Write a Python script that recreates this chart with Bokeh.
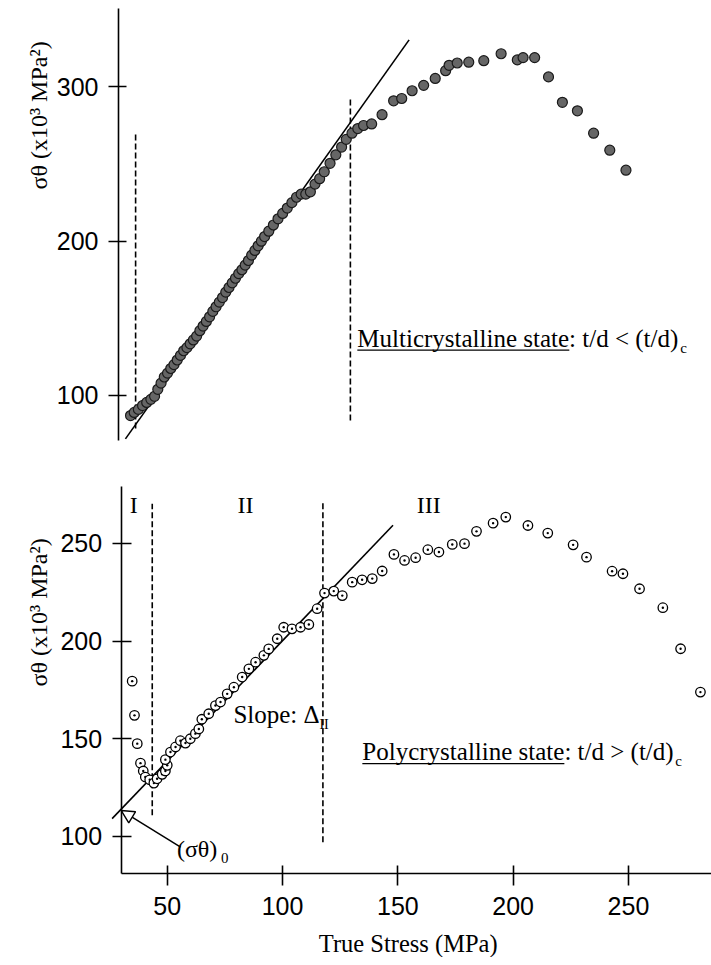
from bokeh.plotting import figure
from bokeh.models import Range1d, Label, Arrow, NormalHead, FixedTicker, LinearAxis
from bokeh.layouts import column
from bokeh.embed import file_html
from bokeh.resources import INLINE

# ---------------- data ----------------
# Upper panel: multicrystalline state (filled markers)
multi_stress = [35.2, 36.8, 38.6, 40.4, 42.2, 44.0, 45.6, 47.0, 48.4, 49.8,
                51.2, 52.6, 54.0, 55.4, 56.8, 58.2, 59.6, 61.0, 62.4, 63.8,
                65.2, 66.6, 68.0, 69.4, 70.8, 72.2, 73.6, 75.0, 76.4, 77.8,
                79.2, 80.6, 82.0, 83.4, 84.8, 86.2, 87.6, 89.0, 90.4, 91.8,
                93.2, 95.0, 97.0, 99.0, 101.0, 103.0, 105.0, 107.0, 109.0, 111.0,
                113.0, 115.0, 117.0, 119.0, 121.5, 124.0, 126.5, 128.5, 131.0, 133.5,
                136.0, 139.5, 144.0, 149.0, 152.5, 157.0, 162.0, 167.0, 171.5, 173.0,
                176.5, 181.5, 188.0, 195.5, 202.5, 205.0, 210.0, 216.0, 222.0, 228.5,
                235.5, 242.5, 249.5]
multi_stheta = [87, 89, 91, 93.5, 95.5, 97.5, 99.5, 104, 108, 112,
                114.5, 117.5, 120, 123, 126, 129, 131, 133.5, 136, 138.5,
                142, 145, 148, 151, 154.5, 157.5, 160.5, 163.5, 167, 170,
                173, 176, 179, 181.5, 184.5, 187.5, 191, 194, 197, 200,
                203, 206.5, 210.5, 214.5, 218, 221.5, 225, 228.5, 230.5, 230.5,
                232, 237, 240.5, 245, 250.5, 256, 261, 266, 270, 273,
                275, 276, 282, 291, 292.5, 297.5, 301, 305.5, 310.5, 314,
                315.5, 316, 317, 321.5, 317.5, 319, 319, 306.5, 290, 284.5,
                270, 259, 246]

# Lower panel: polycrystalline state (open markers)
poly_stress = [34.8, 35.8, 37.0, 38.4, 39.6, 40.5, 42.4, 44.2, 45.6, 47.8,
               49.2, 50.0, 49.2, 51.4, 53.6, 55.7, 57.9, 60.0, 62.2, 63.7,
               65.0, 68.0, 70.9, 73.1, 76.0, 78.9, 82.5, 85.4, 88.3, 91.9,
               94.0, 97.7, 100.5, 104.1, 107.8, 111.4, 115.0, 118.2, 122.2, 125.9,
               130.2, 134.5, 138.9, 143.2, 148.3, 152.9, 157.7, 163.0, 167.8, 173.6,
               178.9, 184.1, 191.3, 196.8, 206.4, 215.0, 226.0, 231.8, 242.9, 247.6,
               254.8, 264.9, 272.6, 281.2]
poly_stheta = [179.5, 162.0, 147.5, 137.5, 133.5, 130.4, 129.0, 127.3, 129.5, 131.8,
               133.5, 136.4, 139.3, 143.2, 145.8, 149.0, 147.8, 150.0, 152.6, 155.0,
               160.0, 162.8, 167.0, 168.8, 173.0, 176.4, 181.6, 185.8, 189.2, 192.7,
               196.0, 201.2, 207.1, 206.3, 207.1, 208.5, 216.6, 224.6, 225.6, 223.3,
               230.2, 231.4, 232.0, 235.9, 244.4, 241.3, 242.7, 246.8, 245.6, 249.5,
               249.9, 256.2, 260.4, 263.5, 259.2, 255.3, 249.3, 243.0, 235.8, 234.5,
               226.8, 217.1, 196.1, 173.9]

# fitted straight lines (stage II)
multi_fit_x = [33.0, 155.7]
multi_fit_y = [71.9, 330.5]
poly_fit_x = [26.1, 147.9]
poly_fit_y = [109.1, 259.3]

# dashed stage boundaries
multi_bound_x = [37.4, 130.3]
multi_bound_lo = [78.6, 83.8]
multi_bound_hi = [269.8, 293.3]
poly_bound_x = [43.5, 117.5]
poly_bound_lo = [110.8, 97.0]
poly_bound_hi = [270.3, 271.2]

# axes: origin and extent
x_axis_start = 30.0
top_y_extent = (70.8, 350.6)
bot_y_extent = (81.05, 279.3)
x_ticks = [50, 100, 150, 200, 250]
top_y_ticks = [100, 200, 300]
bot_y_ticks = [100, 150, 200, 250]

# stage labels
stage_names = ["I", "II", "III"]
stage_x = [35.5, 83.9, 163.4]
stage_y = 265.2

assert len(multi_stress) == len(multi_stheta)
assert len(poly_stress) == len(poly_stheta)

SERIF = "Liberation Serif"
SANS = "Liberation Sans"
YLABEL = "\u03c3\u03b8 (x10\u00b3 MPa\u00b2)"
BASE_FIX = 0.36  # em shift that puts Bokeh's label on the intended baseline


def style_axis(ax, ticks, tin, tout, standoff):
    ax.ticker = FixedTicker(ticks=ticks)
    ax.major_tick_in = tin
    ax.major_tick_out = tout
    ax.minor_tick_in = 0
    ax.minor_tick_out = 0
    ax.axis_line_width = 1.6
    ax.axis_line_color = "black"
    ax.major_tick_line_width = 1.6
    ax.major_tick_line_color = "black"
    ax.major_label_text_font = SANS
    ax.major_label_text_font_size = "25px"
    ax.major_label_text_color = "black"
    ax.major_label_standoff = standoff


def lbl(p, x, y, text, size, align="left", rotated=False, xo=0.0, yo=0.0):
    fix = BASE_FIX * size
    if rotated:
        xo -= fix
    else:
        yo += fix
    p.add_layout(Label(x=x, y=y, text=text, text_font=SERIF, text_font_size=f"{size}px",
                       text_color="black", text_align=align, text_baseline="alphabetic",
                       angle=1.5708 if rotated else 0.0, x_offset=xo, y_offset=yo))


def base_fig(h, xr, yr):
    p = figure(width=711, height=h, x_range=Range1d(*xr), y_range=Range1d(*yr),
               output_backend="svg", toolbar_location=None,
               x_axis_location=None, y_axis_location=None,
               min_border_left=0, min_border_right=0, min_border_top=0, min_border_bottom=0)
    p.grid.visible = False
    p.outline_line_color = None
    return p


# ---------------- upper panel ----------------
p1 = base_fig(450, (-21.04, 286.5), (64.35, 356.0))
yax1 = LinearAxis(fixed_location=x_axis_start, bounds=top_y_extent)
style_axis(yax1, top_y_ticks, 8, 10, 10)
p1.add_layout(yax1, "left")

for bx, lo, hi in zip(multi_bound_x, multi_bound_lo, multi_bound_hi):
    p1.line([bx, bx], [lo, hi], line_color="black", line_width=1.6, line_dash="6 3")
p1.line(multi_fit_x, multi_fit_y, line_color="black", line_width=1.6)
p1.scatter(multi_stress, multi_stheta, size=10, marker="circle",
           fill_color="#666666", line_color="#1a1a1a", line_width=1.2)

lbl(p1, -0.7, 281.5, YLABEL, 24, align="center", rotated=True)
lbl(p1, 133.3, 131.3, "Multicrystalline state: t/d < (t/d)", 25)
lbl(p1, 133.3, 131.3, "c", 15, xo=323, yo=-6)
p1.segment(x0=[133.3], y0=[129.4], x1=[225.0], y1=[129.4], line_color="black", line_width=1.2)

# ---------------- lower panel ----------------
p2 = base_fig(507, (-22.3, 286.0), (38.0, 297.6))
yax2 = LinearAxis(fixed_location=x_axis_start, bounds=bot_y_extent)
style_axis(yax2, bot_y_ticks, 10, 9, 10)
p2.add_layout(yax2, "left")
xax2 = LinearAxis(fixed_location=bot_y_extent[0], bounds=(x_axis_start, 286.0))
style_axis(xax2, x_ticks, 8, 12, 12)
p2.add_layout(xax2, "below")

for bx, lo, hi in zip(poly_bound_x, poly_bound_lo, poly_bound_hi):
    p2.line([bx, bx], [lo, hi], line_color="black", line_width=1.6, line_dash="6 3")
p2.line(poly_fit_x, poly_fit_y, line_color="black", line_width=1.6)
p2.scatter(poly_stress, poly_stheta, size=9.5, marker="circle_dot",
           fill_color="white", line_color="black", line_width=1.3)

for name, sx in zip(stage_names, stage_x):
    lbl(p2, sx, stage_y, name, 24, align="center")

lbl(p2, -1.7, 214.7, YLABEL, 24, align="center", rotated=True)
lbl(p2, 154.5, 40.8, "True Stress (MPa)", 24.5, align="center")
lbl(p2, 78.7, 158.0, "Slope: \u0394", 25)
lbl(p2, 78.7, 158.0, "II", 14, xo=86, yo=-6)
lbl(p2, 134.6, 138.9, "Polycrystalline state: t/d > (t/d)", 25)
lbl(p2, 134.6, 138.9, "c", 15, xo=313, yo=-6)
p2.segment(x0=[134.6], y0=[137.3], x1=[222.2], y1=[137.3], line_color="black", line_width=1.2)
lbl(p2, 54.2, 89.2, "(\u03c3\u03b8)", 24)
lbl(p2, 54.2, 89.2, "0", 15, xo=44, yo=-6)
p2.add_layout(Arrow(end=NormalHead(size=13, fill_color=None, line_color="black", line_width=1.4),
                    x_start=55.8, y_start=94.5, x_end=30.0, y_end=113.3,
                    line_color="black", line_width=1.5))

layout = column(p1, p2)
open("out.html", "w").write(file_html(layout, INLINE, title="True stress vs sigma-theta"))
